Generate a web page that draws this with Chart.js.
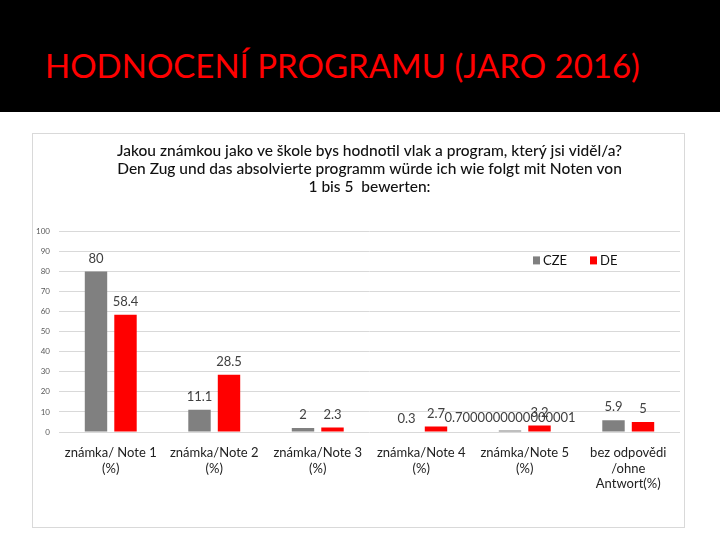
<!DOCTYPE html>
<html>
<head>
<meta charset="utf-8">
<script src="https://cdn.jsdelivr.net/npm/chart.js@4"></script>
<style>
  body { margin: 0; width: 720px; height: 540px; background: #fff; overflow: hidden; font-family: Lato, "Open Sans", sans-serif; }
  #band { position: absolute; left: 0; top: 0; width: 720px; height: 112px; background: #000; }
  #band h1 { position: absolute; left: 45px; top: 45px; margin: 0; font-size: 33px; font-weight: normal; color: #f00; white-space: nowrap; }
  #box { position: absolute; left: 32px; top: 133px; width: 651px; height: 393px; border: 1px solid #d9d9d9; }
</style>
</head>
<body>
<div id="band"><h1>HODNOCENÍ PROGRAMU (JARO 2016)</h1></div>
<div id="box"><canvas id="gradeChart" width="651" height="393"></canvas></div>
<script>
const categories = [
  ["známka/ Note 1", "(%)"],
  ["známka/Note 2", "(%)"],
  ["známka/Note 3", "(%)"],
  ["známka/Note 4", "(%)"],
  ["známka/Note 5", "(%)"],
  ["bez odpovědi", "/ohne", "Antwort(%)"],
];
const czeValues = [80, 11.1, 2, 0.3, 0.7000000000000001, 5.9];
const deValues = [58.4, 28.5, 2.3, 2.7, 3.2, 5];
const yTicks = [0, 10, 20, 30, 40, 50, 60, 70, 80, 90, 100];

// value labels above each bar
const barLabels = {
  id: "barLabels",
  afterDatasetsDraw(chart) {
    const ctx = chart.ctx;
    ctx.save();
    ctx.font = "13px Lato, sans-serif";
    ctx.fillStyle = "#404040";
    ctx.textAlign = "center";
    ctx.textBaseline = "middle";
    chart.data.datasets.forEach((ds, i) => {
      chart.getDatasetMeta(i).data.forEach((bar, j) => {
        ctx.fillText(String(ds.data[j]), bar.x, bar.y - 13);
      });
    });
    ctx.restore();
  },
};

// legend drawn inside the plot, top right (like the Excel one)
const insideLegend = {
  id: "insideLegend",
  afterDraw(chart) {
    const ctx = chart.ctx;
    const area = chart.chartArea;
    let x = area.right - 147;
    const y = area.top + 29;
    ctx.save();
    ctx.font = "13px Lato, sans-serif";
    ctx.textBaseline = "middle";
    chart.data.datasets.forEach((ds) => {
      ctx.fillStyle = ds.backgroundColor;
      ctx.fillRect(x, y - 4, 7, 8);
      ctx.fillStyle = "#111";
      ctx.fillText(ds.label, x + 10, y);
      x += 57;
    });
    ctx.restore();
  },
};

const ctx = document.getElementById("gradeChart").getContext("2d");
const gradeChart = new Chart(ctx, {
  type: "bar",
  data: {
    labels: categories,
    datasets: [
      {
        label: "CZE",
        data: czeValues,
        backgroundColor: "#808080",
        barPercentage: 0.76,
        categoryPercentage: 0.57,
      },
      {
        label: "DE",
        data: deValues,
        backgroundColor: "#ff0000",
        barPercentage: 0.76,
        categoryPercentage: 0.57,
      },
    ],
  },
  options: {
    responsive: false,
    animation: false,
    layout: { padding: { left: 0, right: 4, top: 0, bottom: 0 } },
    scales: {
      x: {
        grid: { display: false },
        border: { display: false },
        ticks: {
          color: "#222",
          font: { family: "Lato", size: 13 },
          maxRotation: 0,
          autoSkip: false,
          padding: 5,
        },
        afterFit(scale) { scale.height = 95; },
      },
      y: {
        min: 0,
        max: 100,
        afterBuildTicks(scale) { scale.ticks = yTicks.map(v => ({ value: v })); },
        grid: { color: "#d9d9d9", drawTicks: false },
        border: { display: false },
        ticks: {
          color: "#595959",
          font: { family: "Lato", size: 8 },
          padding: 9,
        },
        afterFit(scale) { scale.width = 26; },
      },
    },
    plugins: {
      title: {
        display: true,
        fullSize: false,
        text: [
          "Jakou známkou jako ve škole bys hodnotil vlak a program, který jsi viděl/a?",
          "Den Zug und das absolvierte programm würde ich wie folgt mit Noten von",
          "1 bis 5  bewerten:",
        ],
        color: "#111",
        font: { family: "Lato", size: 15.5, weight: "500", lineHeight: 1.17 },
        padding: { top: 8, bottom: 35 },
      },
      legend: { display: false },
      tooltip: { enabled: false },
    },
  },
  plugins: [barLabels, insideLegend],
});
</script>
</body>
</html>
